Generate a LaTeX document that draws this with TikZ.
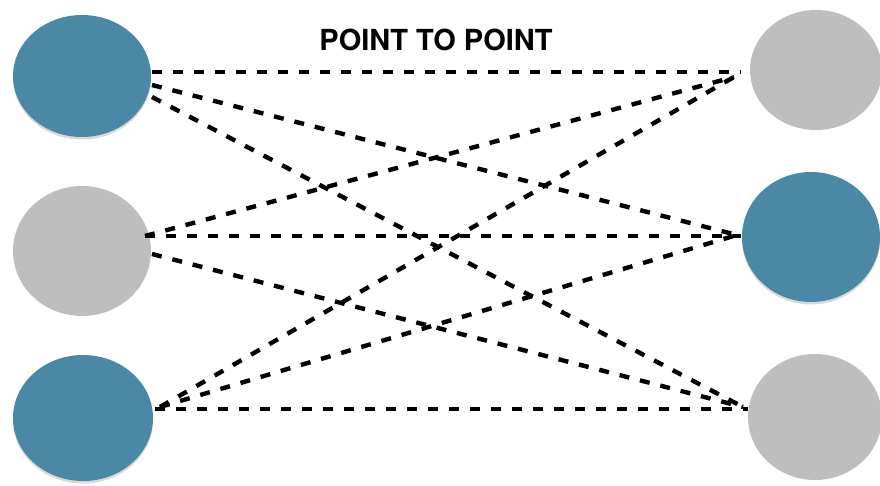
\documentclass[tikz,border=0pt]{standalone}
\usepackage{fontspec}
\setmainfont{TeX Gyre Heros}
\usetikzlibrary{shapes.geometric,shadows}
\definecolor{dotblue}{RGB}{74,136,165}
\definecolor{dotgray}{RGB}{190,190,190}
\tikzset{
  blob/.style={ellipse, inner sep=0pt, draw=none},
  bluedot/.style={blob, fill=dotblue, drop shadow={opacity=0.3, shadow xshift=0pt, shadow yshift=-2.5pt}},
  graydot/.style={blob, fill=dotgray},
  link/.style={line width=4.4pt, dash pattern=on 10pt off 11pt, black},
}
\begin{document}
\begin{tikzpicture}[x=1pt,y=-1pt]
\useasboundingbox (0,0) rectangle (880,486);
% left column
\node[bluedot, minimum width=138pt, minimum height=122pt] (lt) at (82,76) {};
\node[graydot, minimum width=138pt, minimum height=130pt] (lm) at (82,251) {};
\node[bluedot, minimum width=140pt, minimum height=126pt] (lb) at (83,418) {};
% right column
\node[graydot, minimum width=132pt, minimum height=120pt] (rt) at (816,70) {};
\node[bluedot, minimum width=138pt, minimum height=130pt] (rm) at (811,237) {};
\node[graydot, minimum width=134pt, minimum height=126pt] (rb) at (815,417) {};
% title
\node (title) at (436,40) {\fontsize{29}{30}\selectfont\bfseries POINT TO POINT};
% connection end points
\coordinate (ltA) at (152,72);
\coordinate (ltB) at (152,85);
\coordinate (ltC) at (152,97);
\coordinate (lmA) at (145,236);
\coordinate (lmB) at (152,254);
\coordinate (lbA) at (155,409);
\coordinate (lbB) at (160,407);
\coordinate (rtA) at (741,72);
\coordinate (rtB) at (734,77);
\coordinate (rmA) at (741,236);
\coordinate (rmB) at (737,235);
\coordinate (rbA) at (748,409);
\coordinate (rbB) at (743,407);
% connectors
\draw[link] (ltA) -- (rtA);
\draw[link] (ltB) -- (rmB);
\draw[link] (ltC) -- (rbB);
\draw[link] (lmA) -- (rtB);
\draw[link] (lmA) -- (rmA);
\draw[link] (lmB) -- (rbB);
\draw[link] (lbA) -- (rbA);
\draw[link] (lbB) -- (rmB);
\draw[link] (lbB) -- (rtB);
\end{tikzpicture}
\end{document}
